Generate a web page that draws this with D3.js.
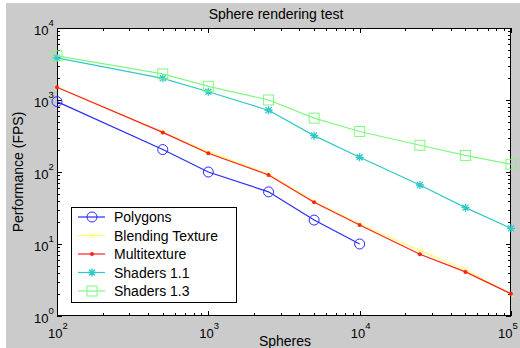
<!DOCTYPE html>
<html><head><meta charset="utf-8">
<script src="https://cdn.jsdelivr.net/npm/d3@7"></script>
<style>body{margin:0;background:#fff}svg{display:block;font-family:"Liberation Sans",Arial,sans-serif}</style>
</head><body><svg id="c" width="520" height="348"></svg>
<script>
const spheres = [100, 500, 1000, 2500, 5000, 10000, 25000, 50000, 100000];
const polygons = [950, 205, 100, 53, 21.5, 10];
const blending = [1500, 360, 190, 94, 39, 19, 8.1, 4.4, 2.0];
const multitexture = [1500, 355, 182, 91, 38, 18.4, 7.2, 4.1, 2.04];
const shaders11 = [3850, 2000, 1300, 720, 320, 160, 66, 32, 16.5];
const shaders13 = [4100, 2300, 1550, 1000, 560, 365, 235, 170, 128];
const seriesNames = ["Polygons", "Blending Texture", "Multitexture", "Shaders 1.1", "Shaders 1.3"];
const xTicks = [100, 1000, 10000, 100000];
const yTicks = [1, 10, 100, 1000, 10000];

const series = [
  {name: seriesNames[0], values: polygons, color: "#2a2aff", marker: "circle"},
  {name: seriesNames[1], values: blending, color: "#ffff66", marker: "x"},
  {name: seriesNames[2], values: multitexture, color: "#ff2020", marker: "dot"},
  {name: seriesNames[3], values: shaders11, color: "#30c8c8", marker: "star"},
  {name: seriesNames[4], values: shaders13, color: "#80f880", marker: "square"}
];

const svg = d3.select("#c");
svg.append("rect").attr("x", 6).attr("y", 3).attr("width", 514).attr("height", 345).attr("fill", "#cbcbcb");

const L = 57, R = 511, T = 28, B = 316;
const x = d3.scaleLog().domain([100, 100000]).range([L, R]);
const y = d3.scaleLog().domain([1, 10000]).range([B, T]);

svg.append("rect").attr("x", L).attr("y", T).attr("width", R - L).attr("height", B - T).attr("fill", "#fff");

// minor & major ticks
const g = svg.append("g").attr("stroke", "#000").attr("stroke-width", 1).attr("shape-rendering", "crispEdges");
const xAll = x.ticks(), yAll = y.ticks();
xAll.forEach(v => {
  const px = Math.round(x(v)) + 0.5;
  const isMaj = xTicks.includes(v);
  const len = isMaj ? 5 : 3;
  g.append("line").attr("x1", px).attr("x2", px).attr("y1", B).attr("y2", B - len);
  g.append("line").attr("x1", px).attr("x2", px).attr("y1", T).attr("y2", T + len);
});
yAll.forEach(v => {
  const py = Math.round(y(v)) + 0.5;
  const isMaj = yTicks.includes(v);
  const len = isMaj ? 5 : 3;
  g.append("line").attr("y1", py).attr("y2", py).attr("x1", L).attr("x2", L + len);
  g.append("line").attr("y1", py).attr("y2", py).attr("x1", R).attr("x2", R - len);
});
svg.append("rect").attr("x", L + 0.5).attr("y", T + 0.5).attr("width", R - L - 1).attr("height", B - T - 1)
  .attr("fill", "none").attr("stroke", "#000").attr("shape-rendering", "crispEdges");

// tick labels
function powLabel(sel, v) {
  const e = Math.round(Math.log10(v));
  sel.append("tspan").text("10");
  sel.append("tspan").attr("dy", -9).attr("font-size", 9.5).text(e);
}
xTicks.forEach((v, i) => {
  const off = i === xTicks.length - 1 ? 13 : 9;
  const t = svg.append("text").attr("x", x(v) - off).attr("y", 338).attr("font-size", 13).attr("fill", "#000");
  powLabel(t, v);
});
yTicks.forEach(v => {
  const t = svg.append("text").attr("x", 34).attr("y", y(v) + 7).attr("font-size", 13).attr("fill", "#000");
  powLabel(t, v);
});

svg.append("text").attr("x", 276).attr("y", 19).attr("text-anchor", "middle").attr("font-size", 14).text("Sphere rendering test");
svg.append("text").attr("x", 285).attr("y", 346).attr("text-anchor", "middle").attr("font-size", 14).text("Spheres");
svg.append("text").attr("transform", "translate(23,172) rotate(-90)").attr("text-anchor", "middle").attr("font-size", 14).text("Performance (FPS)");

function drawMarker(gg, type, cx, cy, color) {
  if (type === "circle") gg.append("circle").attr("cx", cx).attr("cy", cy).attr("r", 5).attr("fill", "none").attr("stroke", color);
  else if (type === "square") gg.append("rect").attr("x", cx - 5).attr("y", cy - 5).attr("width", 10).attr("height", 10).attr("fill", "none").attr("stroke", color);
  else if (type === "dot") gg.append("circle").attr("cx", cx).attr("cy", cy).attr("r", 2).attr("fill", color);
  else if (type === "x") gg.append("path").attr("d", `M${cx-3},${cy-3}L${cx+3},${cy+3}M${cx-3},${cy+3}L${cx+3},${cy-3}`).attr("stroke", color);
  else if (type === "star") gg.append("path").attr("d", `M${cx-4},${cy}L${cx+4},${cy}M${cx},${cy-4}L${cx},${cy+4}M${cx-3},${cy-3}L${cx+3},${cy+3}M${cx-3},${cy+3}L${cx+3},${cy-3}`).attr("stroke", color).attr("stroke-width", 1.3);
}

const line = d3.line().x((d, i) => x(spheres[i])).y(d => y(d));
const plot = svg.append("g");
[series[1], series[2], series[0], series[3], series[4]].forEach(s => {
  plot.append("path").attr("d", line(s.values)).attr("fill", "none").attr("stroke", s.color).attr("stroke-width", 1.2);
  s.values.forEach((v, i) => drawMarker(plot, s.marker, x(spheres[i]), y(v), s.color));
});

// legend
const lg = svg.append("g");
lg.append("rect").attr("x", 71.5).attr("y", 207.5).attr("width", 165).attr("height", 95).attr("fill", "#fff").attr("stroke", "#000").attr("shape-rendering", "crispEdges");
series.forEach((s, i) => {
  const yy = 217 + i * 18.5;
  lg.append("line").attr("x1", 78).attr("x2", 105).attr("y1", yy).attr("y2", yy).attr("stroke", s.color).attr("stroke-width", 1.2);
  drawMarker(lg, s.marker, 92, yy, s.color);
  lg.append("text").attr("x", 114).attr("y", yy + 5).attr("font-size", 14).text(s.name);
});
</script></body></html>
